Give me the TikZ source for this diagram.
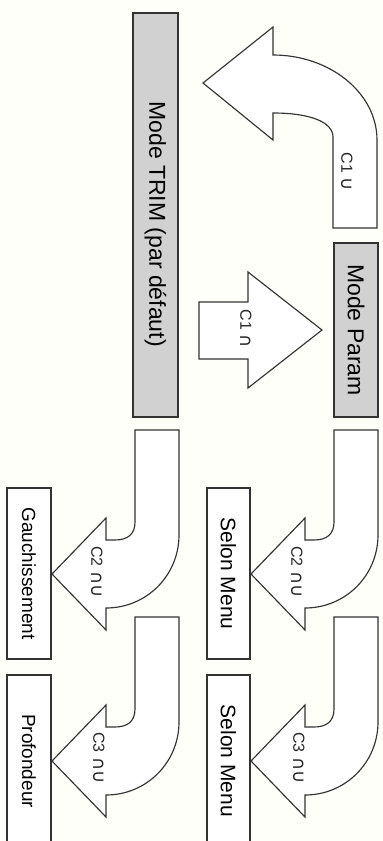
\documentclass[tikz,border=0pt]{standalone}
\usepackage{fontspec}
\setmainfont{Liberation Sans}
\newfontfamily\symf{DejaVu Sans}
\newcommand\bigsym[1]{{\symf\fontsize{18}{18}\selectfont #1}}
\begin{document}
\begin{tikzpicture}[x=1pt,y=-1pt,
  ln/.style={draw=black!80, line width=1.15pt},
  arr/.style={ln, fill=white, line join=miter},
  modebox/.style={ln, fill=black!18, rotate=-90, inner sep=0pt, font=\fontsize{23}{23}\selectfont},
  menubox/.style={ln, fill=white, rotate=-90, inner sep=0pt},
  lab/.style={rotate=-90, font=\fontsize{16}{16}\selectfont, inner sep=0pt, text=black!85},
  pics/uturn/.style={code={
    \path[arr] (0,0) -- (44,0) -- (44,105)
      .. controls (44,145) and (12,178) .. (-29,178)
      -- (-29,200) -- (-83,144) -- (-29,88) -- (-29,110) -- (-20,110)
      .. controls (-7,110) and (0,104) .. (0,92) -- cycle;
  }}]
\path[use as bounding box] (0,0) rectangle (383,841);
\clip (0,0) rectangle (383,841);
\fill[white!97!yellow!60!white] (0,0) rectangle (383,841);

% C1 curved arrow (Param -> TRIM)
\path[arr] (333,228) -- (377,228) -- (377,140)
  .. controls (377,93) and (330,55) .. (273,55)
  -- (273,27) -- (203,83) -- (273,140) -- (273,113)
  .. controls (310,113) and (333,122) .. (333,137) -- cycle;

% C1 straight arrow (TRIM -> Param)
\path[arr] (199,302) -- (248,302) -- (248,272) -- (322,330) -- (248,388) -- (248,359) -- (199,359) -- cycle;

% U-turn arrows
\pic (c2r) at (334,430) {uturn};
\pic (c2l) at (135,430) {uturn};
\pic (c3r) at (334,617) {uturn};
\pic (c3l) at (135,617) {uturn};

% boxes
\node[modebox, minimum width=404pt, minimum height=45pt] (trim) at (155.5,215) {\raisebox{0pt}{}\hspace{18pt}Mode TRIM (par défaut)};
\node[modebox, minimum width=174pt, minimum height=44pt] (param) at (356,330) {Mode Param};
\node[menubox, minimum width=171pt, minimum height=43pt, font=\fontsize{21}{21}\selectfont] (sm1) at (228.5,573.5) {Selon Menu};
\node[menubox, minimum width=172pt, minimum height=43pt, font=\fontsize{21}{21}\selectfont] (sm2) at (228.5,761) {Selon Menu};
\node[menubox, minimum width=171pt, minimum height=44pt, font=\fontsize{19}{19}\selectfont] (gau) at (29,573.5) {Gauchissement};
\node[menubox, minimum width=172pt, minimum height=44pt, font=\fontsize{19}{19}\selectfont] (prof) at (29,761) {Profondeur};

% labels
\node[lab] (l1) at (347,172) {C1 \bigsym{∪}};
\node[lab] (l2) at (246,329) {C1 \bigsym{∩}};
\node[lab] (l3) at (297,572) {C2 \bigsym{∩∪}};
\node[lab] (l4) at (97,572) {C2 \bigsym{∩∪}};
\node[lab] (l5) at (299,758) {C3 \bigsym{∩∪}};
\node[lab] (l6) at (99,758) {C3 \bigsym{∩∪}};
\end{tikzpicture}
\end{document}
